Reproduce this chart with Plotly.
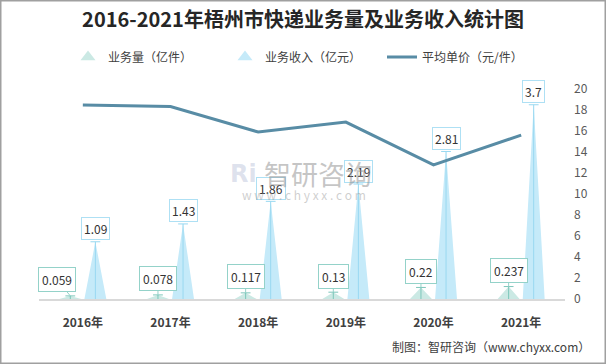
import plotly.graph_objects as go

years = ["2016年", "2017年", "2018年", "2019年", "2020年", "2021年"]
volume = [0.059, 0.078, 0.117, 0.13, 0.22, 0.237]      # 业务量（亿件）
revenue = [1.09, 1.43, 1.86, 2.19, 2.81, 3.7]          # 业务收入（亿元）
price = [18.47, 18.33, 15.90, 16.85, 12.77, 15.61]      # 平均单价（元/件）

FONT = "Noto Sans CJK SC"
VOL_FILL = "#CBE9E4"
VOL_LINE = "#7CC6BA"
VOL_BORDER = "#94D2C9"
REV_FILL = "#C5EAF9"
REV_LINE = "#98D8F1"
REV_BORDER = "#AEE0F4"
PRICE_COLOR = "#588CA5"

HW = 0.125   # half base width of triangles (category units)
OFF = 0.143  # offset of each triangle from category centre

idx = list(range(len(years)))


def tri(vals, off):
    xs, ys = [], []
    for i, v in zip(idx, vals):
        xs += [i + off - HW, i + off, i + off + HW, None]
        ys += [0, v, 0, None]
    return xs, ys


def stem(vals, off):
    xs, ys = [], []
    for i, v in zip(idx, vals):
        xs += [i + off, i + off, None]
        ys += [0, v, None]
    return xs, ys


fig = go.Figure()

for vals, off, fill, line, name in [
    (volume, -OFF, VOL_FILL, VOL_LINE, "业务量（亿件）"),
    (revenue, OFF, REV_FILL, REV_LINE, "业务收入（亿元）"),
]:
    tx, ty = tri(vals, off)
    fig.add_trace(go.Scatter(x=tx, y=ty, fill="toself", fillcolor=fill, mode="lines",
                             line=dict(width=0, color=fill), showlegend=False, hoverinfo="skip"))
    sx, sy = stem(vals, off)
    fig.add_trace(go.Scatter(x=sx, y=sy, mode="lines", line=dict(width=1, color=line),
                             showlegend=False, hoverinfo="skip"))
    fig.add_trace(go.Scatter(x=[i + off for i in idx], y=vals, mode="markers",
                             marker=dict(symbol="line-ew", size=7, line=dict(width=1, color=line)),
                             showlegend=False, hoverinfo="skip"))
    # legend entry
    fig.add_trace(go.Scatter(x=[None], y=[None], mode="markers", name=name,
                             marker=dict(symbol="triangle-up", size=13, color=fill)))

fig.add_trace(go.Scatter(x=idx, y=price, yaxis="y2", mode="lines", name="平均单价（元/件）",
                         line=dict(color=PRICE_COLOR, width=3)))

annotations = []
for i, v in zip(idx, revenue):
    annotations.append(dict(x=i + OFF, y=v, xref="x", yref="y", text=str(v), showarrow=False,
                            yshift=13, bordercolor=REV_BORDER, borderwidth=1, borderpad=2,
                            bgcolor="white", font=dict(size=12, color="#333333", family=FONT)))
for i, v in zip(idx, volume):
    annotations.append(dict(x=i - OFF, y=v, xref="x", yref="y", text=str(v), showarrow=True,
                            arrowhead=0, arrowwidth=1, arrowcolor=VOL_BORDER,
                            ax=-13 if i == 0 else 0, ay=-16, standoff=0,
                            bordercolor=VOL_BORDER, borderwidth=1, borderpad=3,
                            bgcolor="white", font=dict(size=12, color="#333333", family=FONT)))

# watermark
annotations += [
    dict(x=(243 - 39) / 526, y=(299 - 174) / 210, xref="paper", yref="paper", text="<b>Ri</b>",
         showarrow=False, yanchor="middle",
         font=dict(size=24, color="rgba(160,172,205,0.35)", family="DejaVu Sans")),
    dict(x=(318 - 39) / 526, y=(299 - 173) / 210, xref="paper", yref="paper", text="智研咨询",
         showarrow=False, yanchor="middle",
         font=dict(size=27, color="rgba(140,140,140,0.5)", family=FONT)),
    dict(x=(304 - 39) / 526, y=(299 - 194) / 210, xref="paper", yref="paper",
         text="w w w . c h y x x . c o m", showarrow=False, yanchor="middle",
         font=dict(size=12, color="rgba(160,160,160,0.5)", family=FONT)),
    dict(x=(592 - 39) / 526, y=(299 - 346) / 210, xref="paper", yref="paper", xanchor="right",
         yanchor="middle", text="制图：智研咨询（www.chyxx.com）", showarrow=False,
         font=dict(size=12, color="#404040", family=FONT)),
]

fig.update_layout(
    width=606, height=364, autosize=False,
    margin=dict(l=39, r=41, t=89, b=65),
    paper_bgcolor="white", plot_bgcolor="white",
    font=dict(family=FONT, color="#404040"),
    title=dict(text="2016-2021年梧州市快递业务量及业务收入统计图", x=0.5, xanchor="center",
               y=1 - 20 / 364, yanchor="middle",
               font=dict(size=20, color="#262626", family=FONT, weight="bold")),
    legend=dict(orientation="h", x=(68 - 39) / 526, xanchor="left", y=(299 - 57) / 210,
                yanchor="middle", font=dict(size=12, color="#404040", family=FONT),
                entrywidth=112, entrywidthmode="pixels", bgcolor="rgba(0,0,0,0)"),
    xaxis=dict(range=[-0.5, 5.5], tickvals=idx, ticktext=years, showgrid=False, zeroline=False,
               showline=True, linecolor="#D9D9D9", linewidth=1.5, ticks="",
               ticklabelstandoff=12,
               tickfont=dict(size=12, color="#404040", family=FONT, weight="bold")),
    yaxis=dict(range=[0, 4.0], visible=False, showgrid=False, zeroline=False),
    yaxis2=dict(range=[0, 20], dtick=2, overlaying="y", side="right", showgrid=False,
                zeroline=False, showline=False, ticks="", ticklabelstandoff=8,
                tickfont=dict(size=12, color="#595959", family=FONT)),
    annotations=annotations,
    shapes=[dict(type="rect", xref="paper", yref="paper",
                 x0=(0.75 - 39) / 526, x1=(605.25 - 39) / 526,
                 y0=(299 - 363.25) / 210, y1=(299 - 0.75) / 210,
                 line=dict(color="#A0A0A0", width=1.5), fillcolor="rgba(0,0,0,0)", layer="below")],
    showlegend=True,
)

fig.write_html("out.html", config={"displayModeBar": False},
               post_script="document.body.style.margin='0';document.body.style.padding='0';"
                           "document.body.style.overflow='hidden';")
